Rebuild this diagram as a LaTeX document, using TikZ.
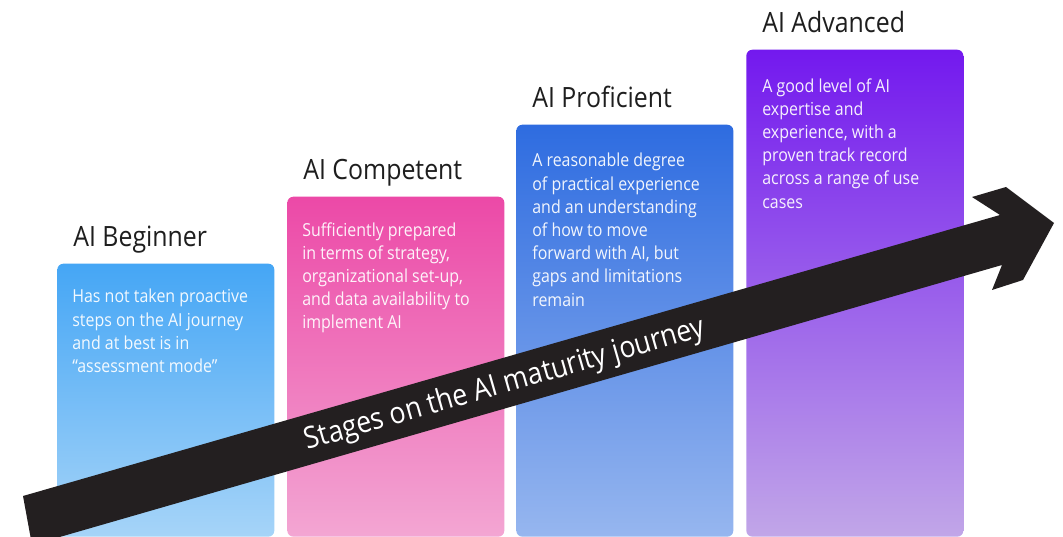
\documentclass[tikz,border=0pt]{standalone}
\usepackage{fontspec}
\setmainfont{Open Sans}[FakeStretch=0.89]
\definecolor{beginnertop}{HTML}{45A6F5}
\definecolor{beginnerbot}{HTML}{A6D4F8}
\definecolor{competenttop}{HTML}{EC49A7}
\definecolor{competentbot}{HTML}{F3A6D3}
\definecolor{proficienttop}{HTML}{2E6CE0}
\definecolor{proficientbot}{HTML}{96B6EF}
\definecolor{advancedtop}{HTML}{7319EE}
\definecolor{advancedbot}{HTML}{C1A6E8}
\definecolor{arrowblack}{HTML}{231F20}
\definecolor{titlegray}{HTML}{1E1E1E}
\tikzset{
  stagebar/.style={anchor=south west, inner sep=0pt, minimum width=4.34cm, rounded corners=3.4pt},
  stagetitle/.style={anchor=base west, inner sep=0pt, text=titlegray, font=\fontsize{15.9}{19}\selectfont},
  stagetext/.style={anchor=north west, inner sep=0pt, align=left, text=white, text opacity=0.93, font=\fontsize{10.2}{13.2}\selectfont},
  journeytext/.style={inner sep=0pt, text=white, font=\fontsize{17.1}{20}\selectfont}
}
\begin{document}
\begin{tikzpicture}[x=0.02cm, y=-0.02cm]
		\clip (0,0) rectangle (1063,537);
		\fill[white] (0,0) rectangle (1063,537);
		
		\node[stagebar, minimum height=5.46cm, top color=beginnertop, bottom color=beginnerbot] (beginner) at (57,537) {};
		\node[stagebar, minimum height=6.80cm, top color=competenttop, bottom color=competentbot] (competent) at (287,537) {};
		\node[stagebar, minimum height=8.24cm, top color=proficienttop, bottom color=proficientbot] (proficient) at (516,537) {};
		\node[stagebar, minimum height=9.74cm, top color=advancedtop, bottom color=advancedbot] (advanced) at (746,537) {};
		
		\node[stagetitle] (beginnertitle) at (73,247) {AI Beginner};
		\node[stagetitle] (competenttitle) at (303,180) {AI Competent};
		\node[stagetitle] (proficienttitle) at (532,108) {AI Proficient};
		\node[stagetitle] (advancedtitle) at (762,33) {AI Advanced};
		
		\node[stagetext] (beginnertext) at (72,289) {Has not taken proactive\\steps on the AI journey\\and at best is in\\“assessment mode”};
		\node[stagetext] (competenttext) at (302,222) {Sufficiently prepared\\in terms of strategy,\\organizational set-up,\\and data availability to\\implement AI};
		\node[stagetext] (proficienttext) at (532,153) {A reasonable degree\\of practical experience\\and an understanding\\of how to move\\forward with AI, but\\gaps and limitations\\remain};
		\node[stagetext] (advancedtext) at (762,78) {A good level of AI\\expertise and\\experience, with a\\proven track record\\across a range of use\\cases};
		
		% journey arrow
		\fill[arrowblack] (23,496) -- (1000,215) -- (972,197) -- (1006,187) -- (1054,223) -- (1023,280) -- (992,290) -- (1002,265) -- (32,545) -- cycle;
		\node[journeytext, rotate=16] (journey) at (505,385) {Stages on the AI maturity journey};
		\end{tikzpicture}
\end{document}
